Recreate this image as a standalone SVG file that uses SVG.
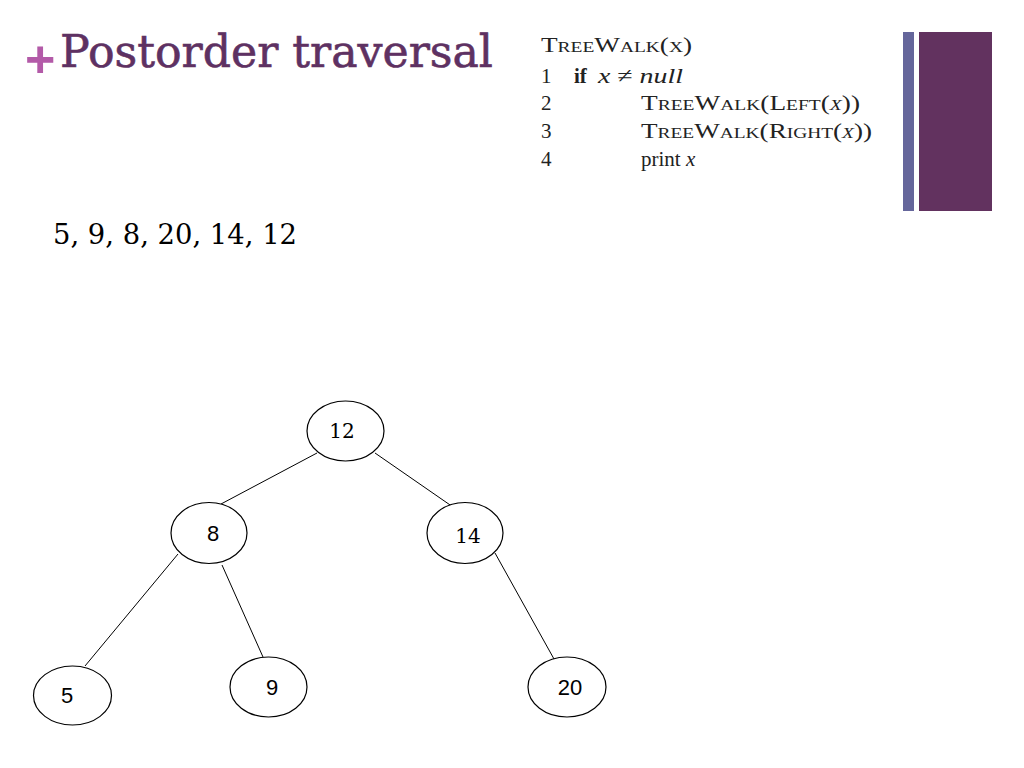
<svg xmlns="http://www.w3.org/2000/svg" width="1024" height="768" viewBox="0 0 1024 768">
<style>
.node ellipse{fill:#fff;stroke:#000;stroke-width:1.2}
.sans{font-family:"Liberation Sans",Arial,sans-serif;font-size:22px;fill:#000;text-anchor:middle}
.slab{font-family:"DejaVu Serif","Liberation Serif",serif;font-size:20px;fill:#000;text-anchor:middle}
.code{font-family:"Liberation Serif","Times New Roman",serif;font-size:21px;fill:#222}
.sc{font-variant:small-caps}
.edges line{stroke:#000;stroke-width:1}
</style>
<rect width="1024" height="768" fill="#fff"/>
<text x="25" y="77" font-family="Liberation Sans,Arial,sans-serif" font-size="52" font-weight="bold" fill="#b35aa8">+</text>
<text x="60" y="67" font-family="DejaVu Serif,Liberation Serif,serif" font-size="45" fill="#5e3162" stroke="#5e3162" stroke-width="0.6" textLength="433" lengthAdjust="spacingAndGlyphs">Postorder traversal</text>
<g class="code">
<text x="541" y="52" class="sc" textLength="151" lengthAdjust="spacingAndGlyphs">TreeWalk(x)</text>
<text x="541" y="83">1</text>
<text x="574" y="83" font-weight="bold">if</text>
<text x="598" y="83" font-size="22" textLength="85" lengthAdjust="spacingAndGlyphs"><tspan font-style="italic">x</tspan> ≠ <tspan font-style="italic">null</tspan></text>
<text x="541" y="110">2</text>
<text x="641" y="110" class="sc" textLength="219" lengthAdjust="spacingAndGlyphs">TreeWalk(Left(<tspan font-style="italic">x</tspan>))</text>
<text x="541" y="138">3</text>
<text x="641" y="138" class="sc" textLength="231" lengthAdjust="spacingAndGlyphs">TreeWalk(Right(<tspan font-style="italic">x</tspan>))</text>
<text x="541" y="166">4</text>
<text x="641" y="166">print <tspan font-style="italic">x</tspan></text>
</g>
<rect x="903" y="32" width="11" height="179" fill="#65669b"/>
<rect x="919" y="32" width="73" height="179" fill="#62325f"/>
<text x="53" y="244" font-family="DejaVu Serif,Liberation Serif,serif" font-size="28" fill="#000" textLength="244" lengthAdjust="spacingAndGlyphs">5, 9, 8, 20, 14, 12</text>
<g class="edges">
<line x1="317" y1="453" x2="221" y2="504"/>
<line x1="375" y1="453" x2="453" y2="507"/>
<line x1="178" y1="554" x2="85" y2="666"/>
<line x1="222" y1="565" x2="263" y2="657"/>
<line x1="495" y1="553" x2="554" y2="659"/>
</g>
<g id="n12" class="node"><ellipse cx="345.5" cy="431" rx="38.5" ry="30"/><text x="342" y="438" class="slab">12</text></g>
<g id="n8" class="node"><ellipse cx="209" cy="533" rx="38" ry="30.5"/><text x="213" y="541" class="sans">8</text></g>
<g id="n14" class="node"><ellipse cx="465" cy="533" rx="38" ry="30.5"/><text x="468" y="543" class="slab">14</text></g>
<g id="n5" class="node"><ellipse cx="72.5" cy="695.5" rx="39" ry="29.5"/><text x="67" y="703" class="sans">5</text></g>
<g id="n9" class="node"><ellipse cx="268.5" cy="687" rx="38.5" ry="30"/><text x="272" y="695" class="sans">9</text></g>
<g id="n20" class="node"><ellipse cx="567" cy="687" rx="39" ry="30"/><text x="570" y="695" class="sans">20</text></g>
</svg>
